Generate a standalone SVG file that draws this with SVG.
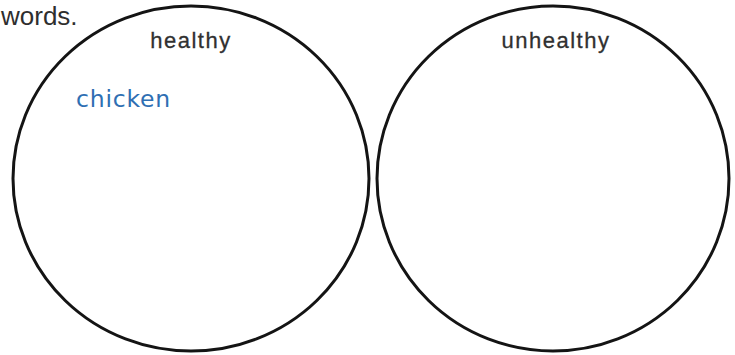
<svg xmlns="http://www.w3.org/2000/svg" width="735" height="355" viewBox="0 0 735 355">
<style>
.ring{fill:none;stroke:#141414;stroke-width:3}
.lbl{font-family:"Liberation Sans",Arial,sans-serif;font-size:22px;fill:#303030;letter-spacing:1.5px;text-anchor:middle;stroke:#303030;stroke-width:0.3}
.hand{font-family:"DejaVu Sans","Liberation Sans",sans-serif;font-size:23.5px;fill:#2f6fb3;letter-spacing:0.8px}
.title{font-family:"Liberation Sans",Arial,sans-serif;font-size:26px;fill:#2e2e2e}
</style>
<rect width="735" height="355" fill="#ffffff"/>
<text class="title" x="1" y="25">words.</text>
<g id="healthy">
<ellipse class="ring" cx="191" cy="178.5" rx="178" ry="172.5"/>
<text class="lbl" x="191" y="48">healthy</text>
<text class="hand" x="76" y="107">chicken</text>
</g>
<g id="unhealthy">
<ellipse class="ring" cx="553" cy="178.5" rx="176" ry="172.5"/>
<text class="lbl" x="556" y="48">unhealthy</text>
</g>
<g id="connectors"></g>
</svg>
